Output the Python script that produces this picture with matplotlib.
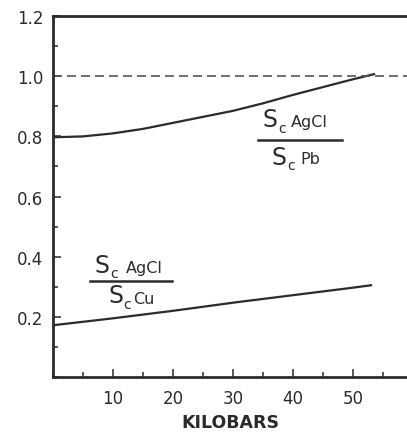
import matplotlib
matplotlib.use("Agg")
import matplotlib.pyplot as plt
from matplotlib.ticker import MultipleLocator

ink = '#2b2b2b'

# S_c AgCl / S_c Pb
kbar_pb = [0, 5, 10, 15, 20, 25, 30, 35, 40, 45, 50, 53.5]
ratio_pb = [0.797, 0.800, 0.810, 0.825, 0.845, 0.865, 0.885, 0.910, 0.938, 0.964, 0.990, 1.007]

# S_c AgCl / S_c Cu
kbar_cu = [0, 10, 20, 30, 40, 50, 53]
ratio_cu = [0.172, 0.195, 0.220, 0.247, 0.272, 0.297, 0.305]

xticks = [10, 20, 30, 40, 50]
yticks = [0.2, 0.4, 0.6, 0.8, 1.0, 1.2]

plt.rcParams['font.family'] = 'DejaVu Sans'

fig = plt.figure(figsize=(4.07, 4.39), dpi=100)
ax = fig.add_axes([0.130, 0.139, 0.870, 0.822])

ax.plot(kbar_pb, ratio_pb, color=ink, lw=1.6)
ax.plot(kbar_cu, ratio_cu, color=ink, lw=1.6)
ax.axhline(1.0, color='#555555', lw=1.2, linestyle=(0, (5.4, 3)))

ax.set_xlim(0, 59)
ax.set_ylim(0, 1.2)
ax.set_xticks(xticks)
ax.set_xticklabels([str(v) for v in xticks])
ax.set_yticks(yticks)
ax.set_yticklabels(['%.1f' % v for v in yticks])
ax.xaxis.set_minor_locator(MultipleLocator(5))
ax.yaxis.set_minor_locator(MultipleLocator(0.1))

ax.tick_params(which='both', direction='in', color=ink, width=1.1, labelcolor=ink, labelsize=12)
ax.tick_params(which='major', length=6)
ax.tick_params(which='minor', length=3.5)
ax.tick_params(axis='x', pad=9)
ax.tick_params(axis='y', pad=7)

for s in ['left', 'bottom', 'top']:
    ax.spines[s].set_linewidth(2)
    ax.spines[s].set_color(ink)
ax.spines['right'].set_visible(False)

ax.set_xlabel('KILOBARS', fontsize=12.5, fontweight='semibold', color=ink, labelpad=4)


def label(x, y, s, size):
    ax.text(x, y, s, fontsize=size, color=ink, va='baseline', ha='left')


# fraction labels, S_c AgCl / S_c Pb
label(35.0, 0.834, 'S', 17)
label(37.6, 0.816, 'c', 10)
label(39.6, 0.834, 'AgCl', 11.5)
ax.plot([34.2, 48.2], [0.787, 0.787], color=ink, lw=1.8)
label(36.5, 0.708, 'S', 17)
label(39.1, 0.690, 'c', 10)
label(41.3, 0.711, 'Pb', 11.5)

# fraction labels, S_c AgCl / S_c Cu
label(7.0, 0.349, 'S', 17)
label(9.6, 0.331, 'c', 10)
label(12.1, 0.349, 'AgCl', 11.5)
ax.plot([6.2, 19.8], [0.319, 0.319], color=ink, lw=1.8)
label(9.2, 0.249, 'S', 17)
label(11.8, 0.231, 'c', 10)
label(13.4, 0.246, 'Cu', 11.5)

fig.savefig('out.png', dpi=100)
